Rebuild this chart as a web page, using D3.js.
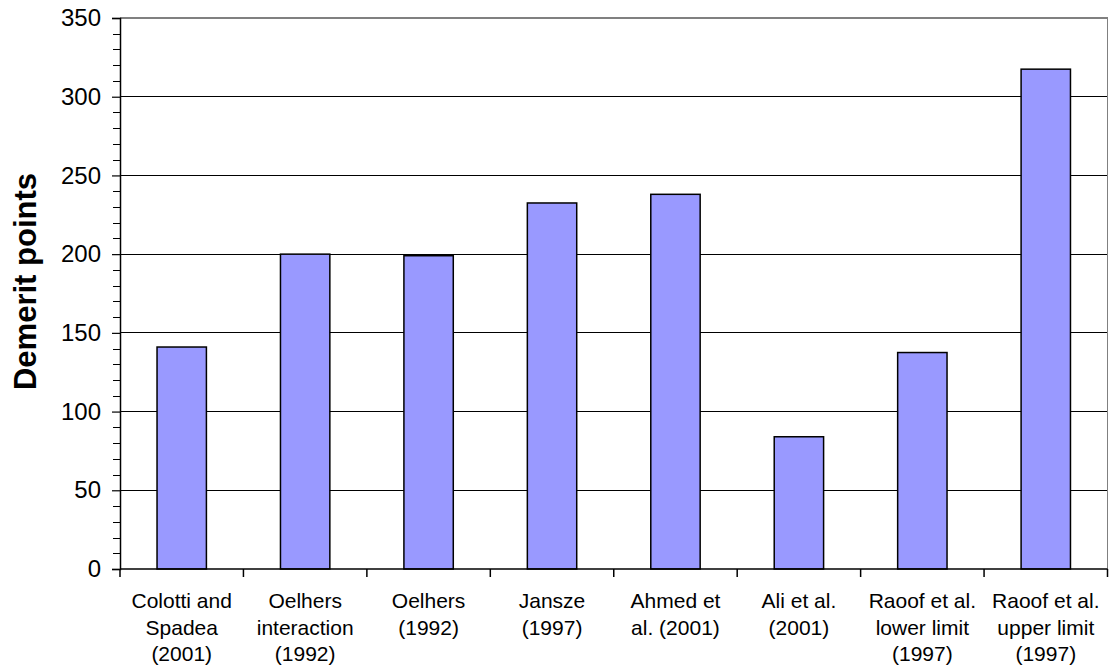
<!DOCTYPE html>
<html>
<head>
<meta charset="utf-8">
<script src="https://cdn.jsdelivr.net/npm/d3@7"></script>
<style>
  body { margin: 0; background: #fff; }
  svg { display: block; font-family: Arial, "Liberation Sans", sans-serif; }
</style>
</head>
<body>
<svg id="chart" width="1109" height="670"></svg>
<script>
// Demerit points per design model
const categories = [
  ["Colotti and", "Spadea", "(2001)"],
  ["Oelhers", "interaction", "(1992)"],
  ["Oelhers", "(1992)"],
  ["Jansze", "(1997)"],
  ["Ahmed et", "al. (2001)"],
  ["Ali et al.", "(2001)"],
  ["Raoof et al.", "lower limit", "(1997)"],
  ["Raoof et al.", "upper limit", "(1997)"]
];
const values = [141, 200, 199, 232.5, 238, 84, 137.5, 317.5];
const yTicks = [0, 50, 100, 150, 200, 250, 300, 350];
const yTitle = "Demerit points";

const svg = d3.select("#chart");
const margin = { left: 120, right: 1.5, top: 18, bottom: 101 };
const W = 1109, H = 670;
const x0 = margin.left, x1 = W - margin.right;
const y0 = H - margin.bottom, y1 = margin.top;

const x = d3.scaleBand().domain(d3.range(categories.length)).range([x0, x1]).paddingInner(0.6).paddingOuter(0.3);
const xb = d3.scaleBand().domain(d3.range(categories.length)).range([x0, x1]);
const y = d3.scaleLinear().domain([0, 350]).range([y0, y1]);

// gridlines
svg.append("g").selectAll("line").data(yTicks.filter(d => d > 0 && d < 350)).join("line")
  .attr("x1", x0).attr("x2", x1)
  .attr("y1", d => y(d)).attr("y2", d => y(d))
  .attr("stroke", "#000").attr("stroke-width", 1).attr("shape-rendering", "crispEdges");

// plot border (top and right)
svg.append("path")
  .attr("d", `M${x0},${y(350)}H${x1}V${y0}`)
  .attr("fill", "none").attr("stroke", "#808080").attr("stroke-width", 1.5)
  .attr("shape-rendering", "crispEdges");

// bars
svg.append("g").selectAll("rect").data(values).join("rect")
  .attr("x", (d, i) => x(i))
  .attr("width", x.bandwidth())
  .attr("y", d => y(d))
  .attr("height", d => y(0) - y(d))
  .attr("fill", "#9999ff")
  .attr("stroke", "#000").attr("stroke-width", 1.5);

// y axis with minor ticks
const yAxis = d3.axisLeft(y).tickValues(yTicks).tickSize(8).tickPadding(11).tickFormat(d3.format("d"));
const gy = svg.append("g").attr("transform", `translate(${x0},0)`).call(yAxis);
gy.select(".domain").attr("stroke", "#000").attr("stroke-width", 1.5);
gy.selectAll(".tick line").attr("stroke", "#000").attr("stroke-width", 1.2);
gy.selectAll(".tick text").attr("font-size", 24).attr("fill", "#000").attr("font-family", "Arial, 'Liberation Sans', sans-serif");
const minor = d3.range(0, 351, 10).filter(d => d % 50 !== 0);
svg.append("g").selectAll("line").data(minor).join("line")
  .attr("x1", x0 - 7).attr("x2", x0)
  .attr("y1", d => Math.round(y(d)) + 0.5).attr("y2", d => Math.round(y(d)) + 0.5)
  .attr("stroke", "#000").attr("stroke-width", 1);

// x axis line and category separators
svg.append("line").attr("x1", x0).attr("x2", x1).attr("y1", y0).attr("y2", y0)
  .attr("stroke", "#000").attr("stroke-width", 1.5);
svg.append("g").selectAll("line").data(d3.range(categories.length + 1)).join("line")
  .attr("x1", i => i < categories.length ? xb(i) : x1)
  .attr("x2", i => i < categories.length ? xb(i) : x1)
  .attr("y1", y0).attr("y2", y0 + 8)
  .attr("stroke", "#000").attr("stroke-width", 1.5);

// category labels
const lab = svg.append("g").selectAll("text").data(categories).join("text")
  .attr("text-anchor", "middle").attr("font-size", 21).attr("fill", "#000")
  .attr("transform", (d, i) => `translate(${xb(i) + xb.bandwidth() / 2},${y0 + 39})`);
lab.selectAll("tspan").data(d => d).join("tspan")
  .attr("x", 0).attr("dy", (d, j) => j === 0 ? 0 : 26.5).text(d => d);

// y title
svg.append("text")
  .attr("transform", `translate(36,281.5) rotate(-90)`)
  .attr("text-anchor", "middle").attr("font-size", 31).attr("font-weight", "bold")
  .attr("fill", "#000").text(yTitle);
</script>
</body>
</html>
